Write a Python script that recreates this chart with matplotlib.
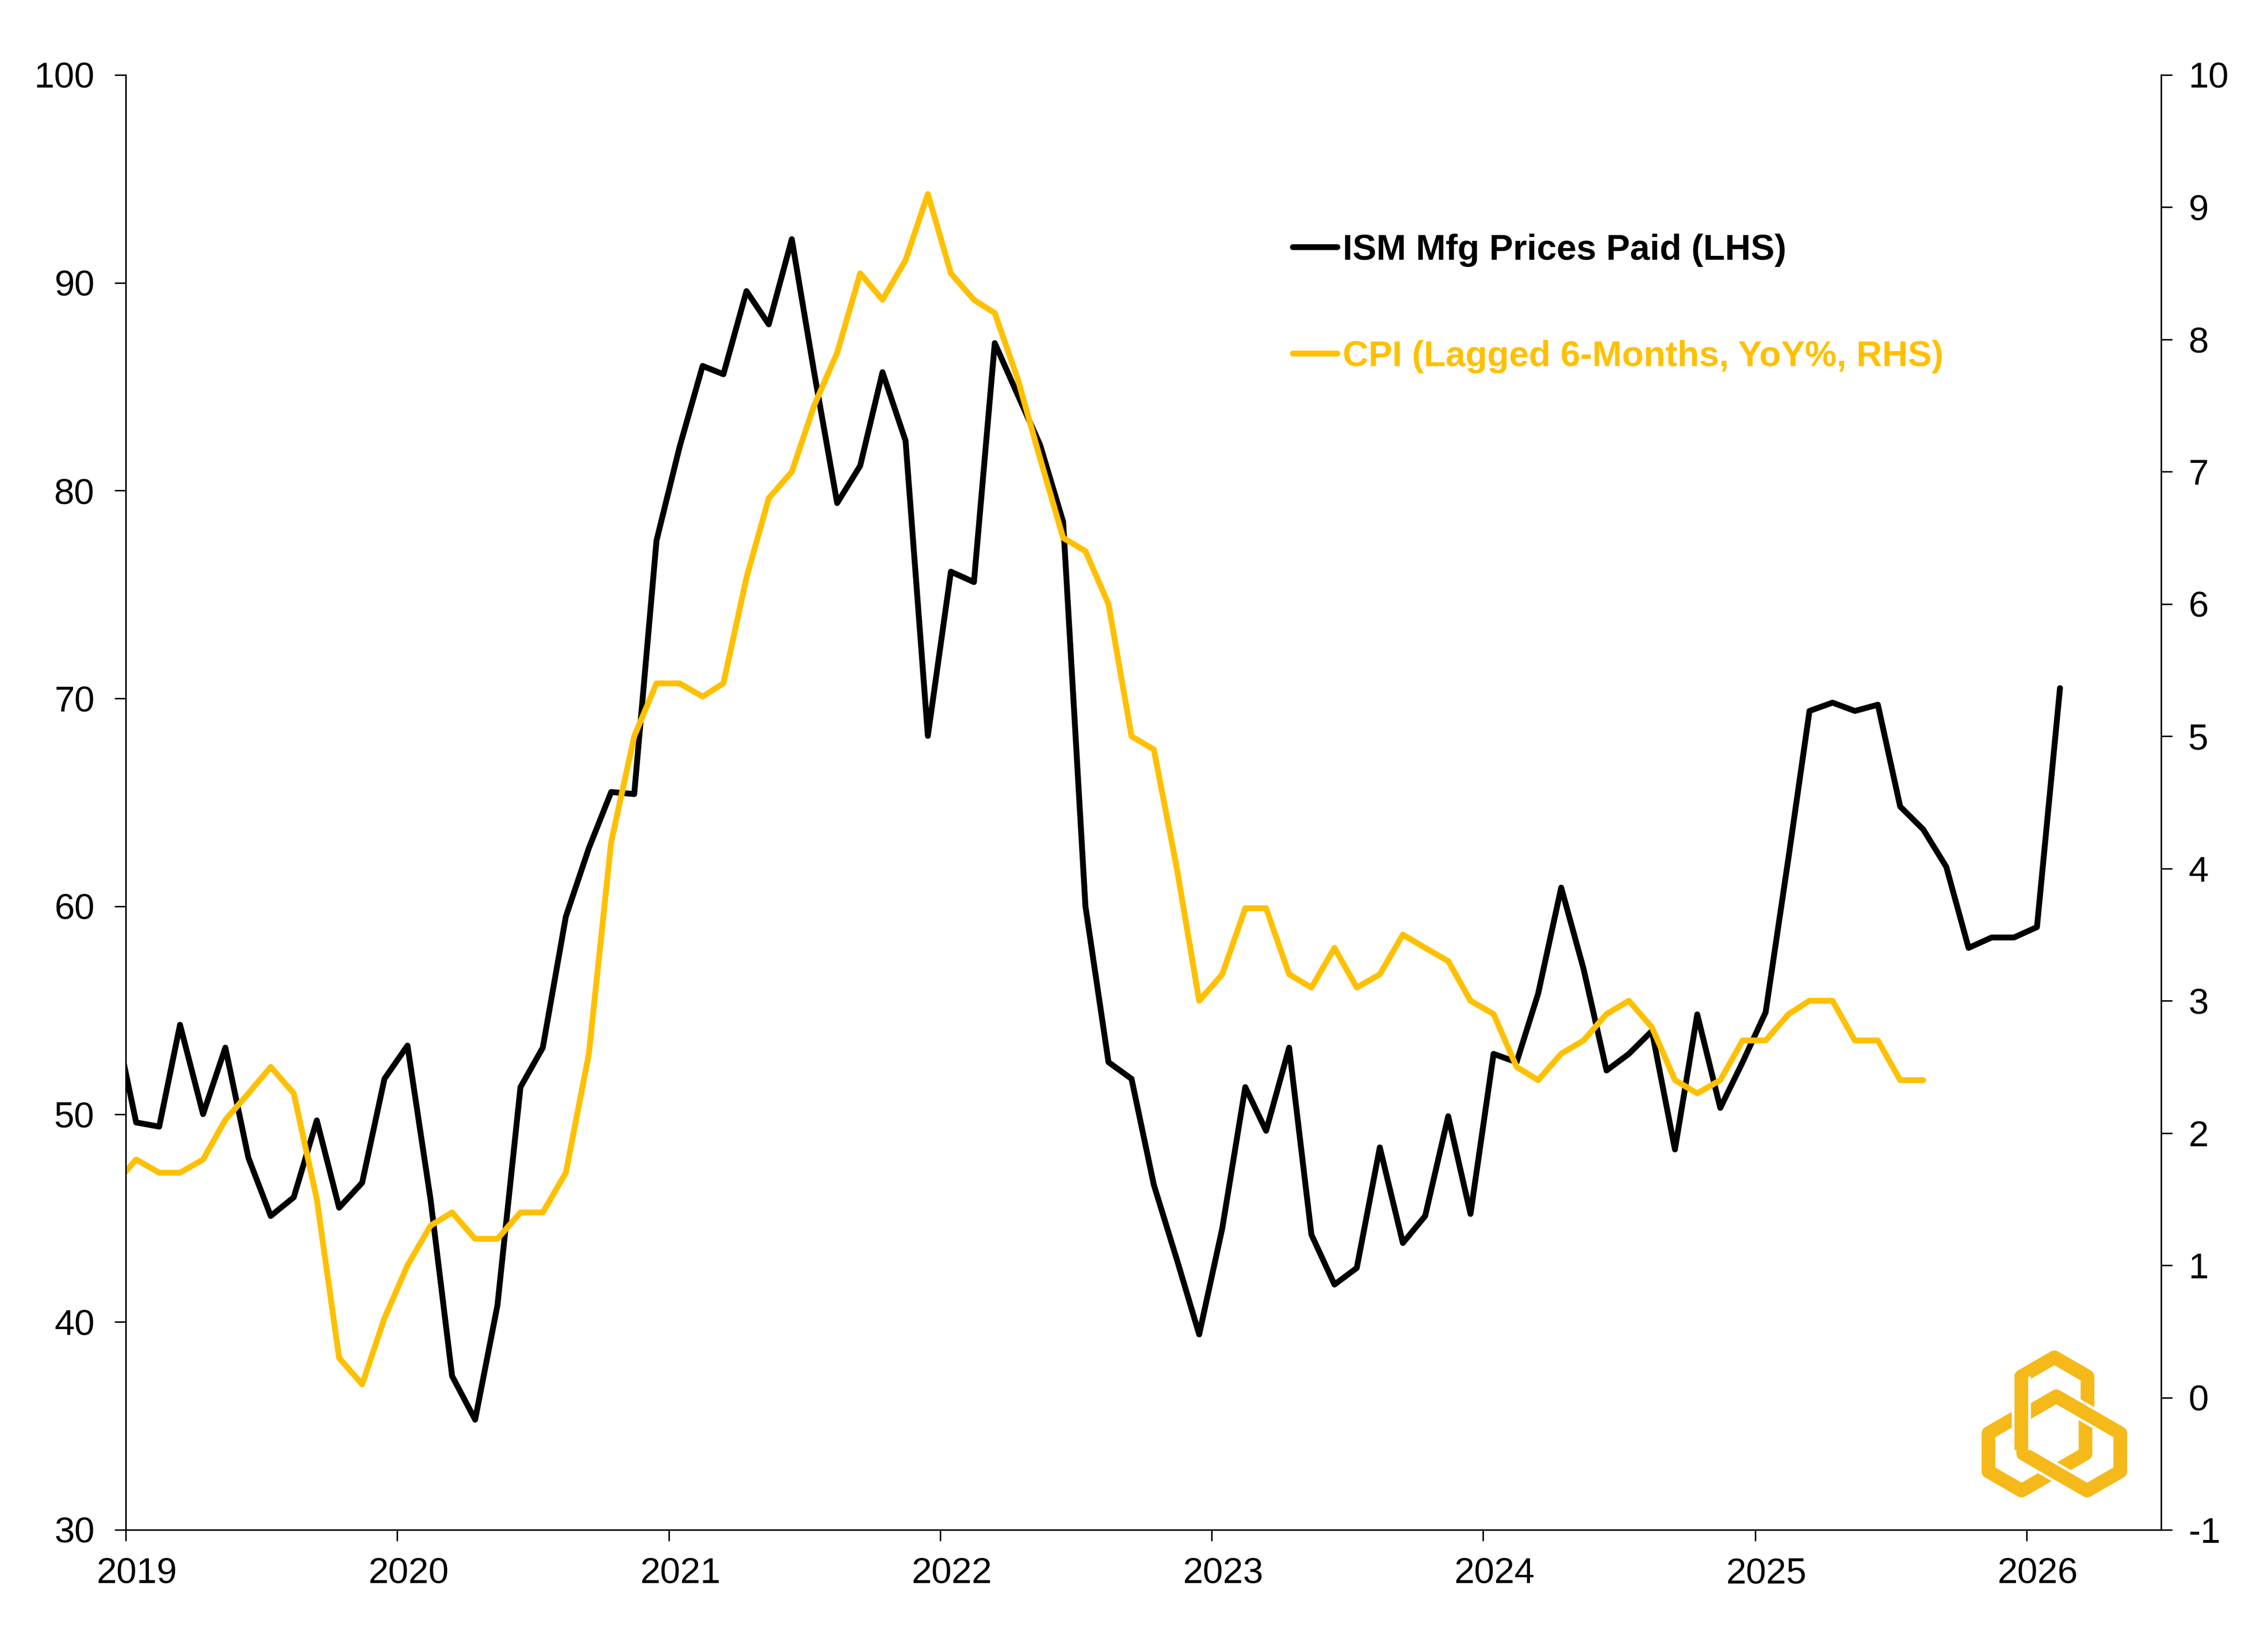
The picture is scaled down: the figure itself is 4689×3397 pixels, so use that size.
import matplotlib
matplotlib.use("Agg")
import matplotlib.pyplot as plt
import matplotlib.dates as mdates
import numpy as np
import pandas as pd
from matplotlib.patches import Polygon

plt.rcParams['font.family'] = ['Liberation Sans', 'DejaVu Sans']
plt.rcParams['axes.unicode_minus'] = False

# ISM Manufacturing Prices Paid, monthly from Dec 2018
ism_start = '2018-12-01'
ism_values = [
    54.9,
    49.6, 49.4, 54.3, 50.0, 53.2, 47.9, 45.1, 46.0, 49.7, 45.5, 46.7, 51.7,
    53.3, 45.9, 37.4, 35.3, 40.8, 51.3, 53.2, 59.5, 62.8, 65.5, 65.4, 77.6,
    82.1, 86.0, 85.6, 89.6, 88.0, 92.1, 85.7, 79.4, 81.2, 85.7, 82.4, 68.2,
    76.1, 75.6, 87.1, 84.6, 82.2, 78.5, 60.0, 52.5, 51.7, 46.6, 43.0, 39.4,
    44.5, 51.3, 49.2, 53.2, 44.2, 41.8, 42.6, 48.4, 43.8, 45.1, 49.9, 45.2,
    52.9, 52.5, 55.8, 60.9, 57.0, 52.1, 52.9, 54.0, 48.3, 54.8, 50.3, 52.5,
    54.9, 62.4, 69.4, 69.8, 69.4, 69.7, 64.8, 63.7, 61.9, 58.0, 58.5, 58.5,
    59.0, 70.5,
]

# CPI YoY %, shifted 6 months earlier, monthly from Dec 2018
cpi_start = '2018-12-01'
cpi_values = [
    1.6,
    1.8, 1.7, 1.7, 1.8, 2.1, 2.3, 2.5, 2.3, 1.5, 0.3, 0.1, 0.6,
    1.0, 1.3, 1.4, 1.2, 1.2, 1.4, 1.4, 1.7, 2.6, 4.2, 5.0, 5.4,
    5.4, 5.3, 5.4, 6.2, 6.8, 7.0, 7.5, 7.9, 8.5, 8.3, 8.6, 9.1,
    8.5, 8.3, 8.2, 7.7, 7.1, 6.5, 6.4, 6.0, 5.0, 4.9, 4.0, 3.0,
    3.2, 3.7, 3.7, 3.2, 3.1, 3.4, 3.1, 3.2, 3.5, 3.4, 3.3, 3.0,
    2.9, 2.5, 2.4, 2.6, 2.7, 2.9, 3.0, 2.8, 2.4, 2.3, 2.4, 2.7,
    2.7, 2.9, 3.0, 3.0, 2.7, 2.7, 2.4, 2.4,
]

ism_label = 'ISM Mfg Prices Paid (LHS)'
cpi_label = 'CPI (Lagged 6-Months, YoY%, RHS)'
left_ticks = list(range(30, 101, 10))
right_ticks = list(range(-1, 11))

BLACK = '#000000'
GOLD = '#FFC000'
LOGO = '#F5B919'


def month_mid(start, n):
    # points sit in the middle of each month
    return pd.date_range(start, periods=n, freq='MS') + pd.Timedelta(days=14)


ism_dates = month_mid(ism_start, len(ism_values))
cpi_dates = month_mid(cpi_start, len(cpi_values))

fig = plt.figure(figsize=(4689 / 300, 3397 / 300), dpi=300)
ax = fig.add_axes([260 / 4689, 1 - 3163 / 3397, (4468 - 260) / 4689, (3163 - 155) / 3397])
ax2 = ax.twinx()

line_kw = dict(linewidth=2.9, solid_joinstyle='round', solid_capstyle='round')
l1, = ax.plot(ism_dates, ism_values, color=BLACK, label=ism_label, **line_kw)
l2, = ax2.plot(cpi_dates, cpi_values, color=GOLD, label=cpi_label, **line_kw)

ax.set_xlim(pd.Timestamp('2019-01-01'), pd.Timestamp('2026-07-01'))
ax.set_ylim(30, 100)
ax2.set_ylim(-1, 10)
ax.set_yticks(left_ticks)
ax2.set_yticks(right_ticks)

# tick marks on 1 Jan, year labels centred on the January slot
ax.xaxis.set_major_locator(mdates.YearLocator())
ax.xaxis.set_major_formatter(plt.NullFormatter())
ax.xaxis.set_minor_locator(mdates.MonthLocator(bymonth=1, bymonthday=16))
ax.xaxis.set_minor_formatter(mdates.DateFormatter('%Y'))

for a in (ax, ax2):
    a.spines['top'].set_visible(False)
    for s in a.spines.values():
        s.set_linewidth(0.75)
        s.set_color(BLACK)
    a.tick_params(axis='both', direction='out', length=5.5, width=0.75,
                  labelsize=18, colors=BLACK)
ax.tick_params(axis='y', pad=10)
ax.tick_params(axis='x', which='minor', length=0, pad=13.5, labelsize=18)
ax2.tick_params(axis='y', pad=8)

leg = ax2.legend(handles=[l1, l2], loc='upper left', bbox_to_anchor=(0.5734, 0.891),
                 frameon=False, borderpad=0, borderaxespad=0,
                 handlelength=1.25, handletextpad=0.15, labelspacing=2.05,
                 prop={'family': 'Liberation Sans', 'weight': 'bold', 'size': 17.7},
                 labelcolor=[BLACK, GOLD])

# logo: three interlaced hexagon rings, bottom right corner
lax = fig.add_axes([4050 / 4689, 1 - 3150 / 3397, 400 / 4689, 400 / 3397])
lax.set_xlim(0, 1200)
lax.set_ylim(1200, 0)
lax.axis('off')
centre = np.array([592.0, 641.0])
ring = np.array([(0, -472), (205.5, -353.4), (205.5, 104.4),
                 (0, 223), (-205.5, 104.4), (-205.5, -353.4)])


def rotated(pts, deg):
    t = np.deg2rad(deg)
    r = np.array([[np.cos(t), -np.sin(t)], [np.sin(t), np.cos(t)]])
    return pts @ r.T + centre


rings = [rotated(ring, 0), rotated(ring, -120), rotated(ring, 120)]
for pts in rings:
    lax.add_patch(Polygon(pts, closed=True, fill=False, edgecolor='white',
                          linewidth=9.5, joinstyle='round'))
    lax.add_patch(Polygon(pts, closed=True, fill=False, edgecolor=LOGO,
                          linewidth=6.8, joinstyle='round'))
# left side of the top ring goes over the others
seg = rings[0][[4, 5]]
lax.plot(seg[:, 0], seg[:, 1], color='white', linewidth=9.5, solid_capstyle='butt')
lax.plot(seg[:, 0], seg[:, 1], color=LOGO, linewidth=6.8, solid_capstyle='butt')

fig.savefig('out.png', dpi=300)
